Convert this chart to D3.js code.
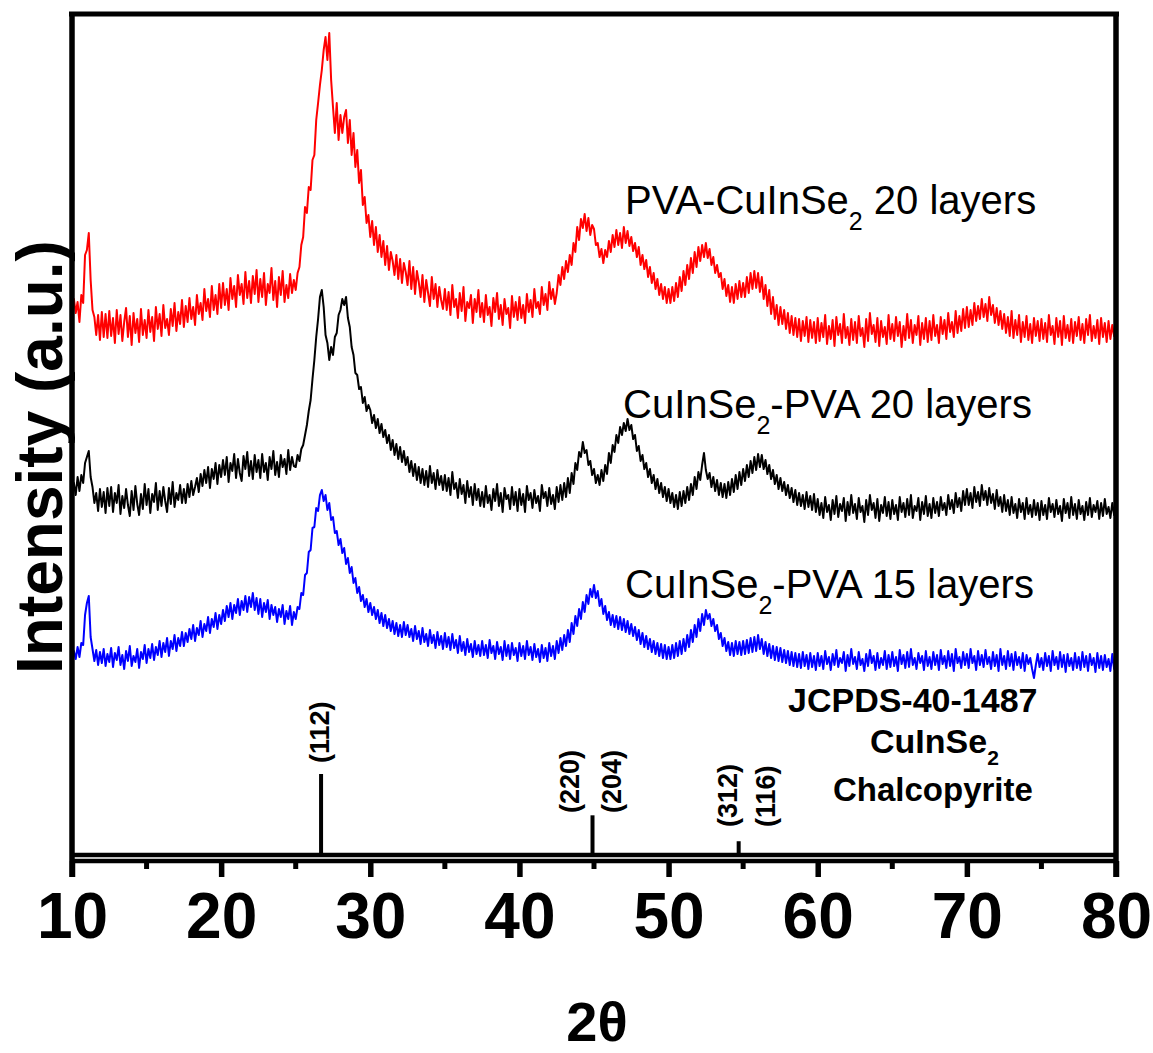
<!DOCTYPE html>
<html>
<head>
<meta charset="utf-8">
<script src="https://cdn.jsdelivr.net/npm/d3@7"></script>
<style>
  body { margin: 0; background: #fff; }
  svg { display: block; font-family: Arial, "Liberation Sans", sans-serif; }
</style>
</head>
<body>
<div id="chart"></div>
<script>
// 2-theta sampling grid of the traces (degrees)
const thetaStart = 10;
const thetaStep = 0.125;

// stacked intensities (a.u.), one row = 2.5 degrees
const redValues = [
  540, 556, 542, 553, 533, 560, 552, 600, 605, 622, 575, 545, 538, 520, 540, 515, 543, 518, 541, 517,
  544, 519, 537, 512, 545, 521, 540, 514, 533, 547, 518, 539, 510, 542, 522, 536, 513, 546, 520, 535,
  517, 545, 523, 538, 514, 548, 526, 541, 519, 550, 527, 536, 520, 546, 529, 552, 524, 543, 531, 555,
  528, 549, 533, 557, 536, 548, 530, 560, 541, 552, 535, 566, 544, 556, 538, 569, 545, 560, 541, 571,
  547, 572, 550, 566, 545, 577, 556, 569, 548, 580, 560, 571, 551, 583, 557, 574, 552, 579, 561, 585,
  553, 576, 558, 582, 550, 571, 562, 587, 555, 574, 548, 578, 560, 584, 553, 570, 557, 581, 562, 575,
  565, 582, 588, 610, 618, 648, 642, 668, 665, 695, 700, 735, 752, 770, 785, 805, 818, 795, 822, 775,
  748, 722, 752, 715, 740, 722, 738, 745, 712, 735, 700, 722, 688, 705, 672, 685, 650, 658, 632, 640,
  618, 634, 610, 628, 603, 620, 598, 614, 590, 609, 585, 603, 594, 580, 600, 576, 596, 572, 592, 583,
  570, 594, 566, 588, 561, 584, 573, 558, 580, 553, 575, 562, 549, 578, 556, 571, 548, 568, 555, 546,
  566, 545, 563, 540, 570, 548, 556, 537, 562, 544, 568, 534, 553, 547, 560, 532, 556, 543, 565, 538,
  552, 533, 560, 540, 548, 529, 557, 543, 562, 536, 550, 530, 556, 541, 547, 527, 559, 538, 553, 535,
  558, 537, 550, 532, 561, 543, 555, 538, 566, 547, 553, 541, 568, 550, 561, 545, 573, 556, 566, 551,
  562, 580, 570, 588, 576, 594, 583, 600, 590, 612, 603, 628, 615, 636, 627, 641, 624, 637, 620, 630,
  626, 610, 612, 598, 606, 592, 605, 598, 614, 603, 620, 608, 625, 610, 622, 607, 628, 612, 624, 609,
  618, 604, 612, 598, 608, 590, 600, 586, 595, 578, 588, 572, 582, 566, 576, 560, 571, 556, 568, 552,
  566, 552, 568, 554, 572, 558, 578, 564, 584, 570, 590, 576, 597, 582, 603, 588, 608, 594, 610, 598,
  612, 597, 606, 590, 598, 582, 590, 578, 582, 566, 576, 559, 570, 553, 568, 552, 571, 556, 574, 558,
  572, 558, 578, 562, 582, 566, 584, 567, 582, 563, 578, 556, 570, 549, 565, 541, 558, 536, 550, 530,
  548, 531, 545, 526, 542, 522, 539, 520, 537, 518, 536, 514, 534, 519, 538, 513, 535, 517, 533, 512,
  537, 514, 532, 518, 540, 511, 529, 516, 535, 509, 538, 520, 531, 512, 541, 517, 528, 510, 536, 515,
  533, 512, 539, 519, 527, 508, 536, 514, 542, 521, 530, 513, 537, 509, 534, 518, 528, 511, 540, 516,
  531, 514, 538, 519, 533, 508, 529, 515, 541, 517, 535, 512, 530, 520, 539, 510, 532, 516, 537, 513,
  534, 515, 540, 519, 530, 512, 538, 521, 535, 516, 542, 523, 533, 518, 544, 522, 539, 524, 546, 527,
  548, 528, 545, 530, 552, 534, 549, 536, 556, 538, 551, 534, 558, 540, 550, 532, 547, 530, 544, 526,
  541, 522, 538, 519, 544, 517, 535, 520, 540, 513, 533, 518, 539, 515, 531, 512, 537, 519, 534, 514,
  536, 516, 532, 513, 540, 520, 529, 511, 537, 518, 534, 510, 539, 517, 530, 514, 536, 512, 533, 519,
  538, 515, 531, 512, 536, 520, 540, 514, 529, 517, 535, 511, 537, 518, 532, 513, 534, 516, 530, 519, 524
];

const blackValues = [
  358, 372, 360, 378, 364, 380, 372, 392, 398, 404, 378, 368, 352, 362, 344, 366, 348, 363, 342, 367,
  349, 368, 343, 362, 352, 370, 341, 359, 347, 366, 350, 339, 364, 345, 369, 351, 340, 361, 346, 371,
  350, 366, 342, 361, 353, 372, 345, 364, 349, 368, 354, 343, 367, 351, 373, 348, 362, 355, 370, 352,
  366, 352, 371, 358, 374, 360, 368, 377, 363, 381, 369, 385, 372, 388, 367, 386, 376, 392, 371, 390,
  378, 395, 380, 398, 373, 392, 384, 401, 377, 396, 382, 374, 399, 386, 403, 379, 394, 376, 400, 383,
  395, 377, 401, 383, 392, 375, 398, 386, 404, 380, 393, 378, 400, 388, 396, 381, 405, 385, 398, 389,
  388, 400, 394, 406, 410, 420, 430, 444, 455, 476, 495, 518, 536, 558, 565, 548, 520, 512, 495, 508,
  500, 518, 522, 540, 545, 556, 550, 558, 537, 528, 508, 500, 482, 480, 466, 468, 452, 458, 444, 450,
  445, 432, 440, 427, 436, 422, 431, 418, 425, 412, 420, 405, 415, 400, 411, 396, 408, 393, 404, 390,
  398, 383, 394, 379, 391, 375, 388, 372, 386, 370, 384, 368, 389, 372, 382, 366, 385, 370, 379, 365,
  380, 364, 377, 360, 383, 366, 372, 357, 376, 361, 370, 352, 374, 358, 368, 350, 371, 355, 366, 349,
  363, 348, 369, 352, 360, 345, 366, 354, 371, 349, 362, 343, 367, 356, 360, 346, 368, 350, 363, 344,
  366, 350, 361, 343, 369, 355, 362, 347, 365, 352, 359, 344, 370, 357, 363, 349, 367, 351, 360, 346,
  368, 353, 370, 355, 372, 358, 377, 362, 382, 371, 392, 385, 403, 398, 413, 402, 405, 390, 394, 380,
  386, 372, 380, 370, 385, 374, 390, 381, 402, 392, 410, 403, 420, 412, 428, 420, 432, 424, 436, 425,
  430, 416, 420, 404, 409, 394, 400, 386, 392, 378, 386, 372, 380, 366, 376, 362, 372, 358, 368, 354,
  366, 352, 362, 348, 360, 346, 363, 349, 364, 352, 368, 355, 371, 360, 378, 366, 383, 375, 390, 402,
  385, 376, 382, 368, 378, 364, 375, 360, 372, 358, 371, 357, 373, 360, 376, 363, 380, 366, 383, 370,
  386, 374, 390, 378, 394, 382, 398, 385, 401, 388, 400, 386, 395, 381, 390, 376, 385, 371, 380, 366,
  377, 364, 373, 360, 370, 357, 367, 353, 365, 350, 362, 349, 360, 346, 363, 348, 359, 345, 361, 343,
  356, 340, 352, 337, 358, 343, 350, 335, 355, 341, 359, 338, 351, 344, 357, 334, 353, 340, 360, 342,
  351, 336, 357, 343, 349, 333, 355, 340, 360, 345, 352, 337, 356, 334, 350, 342, 358, 339, 353, 336,
  355, 341, 350, 335, 358, 343, 352, 338, 356, 340, 360, 337, 349, 344, 357, 335, 353, 341, 359, 339,
  351, 337, 357, 342, 353, 339, 358, 345, 352, 340, 360, 346, 355, 342, 362, 348, 357, 344, 364, 350,
  366, 350, 362, 347, 368, 353, 363, 349, 370, 355, 364, 350, 367, 352, 361, 346, 365, 349, 358, 343,
  360, 344, 355, 340, 358, 342, 351, 337, 356, 343, 352, 336, 357, 341, 350, 338, 355, 340, 352, 335,
  354, 340, 350, 336, 357, 343, 351, 338, 355, 341, 349, 334, 356, 342, 352, 337, 358, 340, 351, 336,
  355, 341, 349, 335, 353, 340, 357, 338, 350, 343, 354, 336, 352, 339, 356, 341, 348, 337, 352, 340, 345
];

const blueValues = [
  192, 204, 196, 208, 198, 212, 210, 240, 252, 259, 218, 206, 194, 205, 190, 203, 192, 206, 189, 201,
  193, 207, 188, 202, 195, 208, 190, 200, 186, 204, 194, 209, 189, 199, 193, 206, 187, 203, 196, 210,
  192, 206, 197, 211, 195, 208, 200, 214, 198, 212, 203, 217, 199, 214, 206, 220, 204, 217, 209, 223,
  209, 222, 213, 226, 216, 230, 214, 227, 220, 234, 218, 231, 224, 238, 222, 236, 228, 242, 226, 240,
  231, 245, 234, 249, 238, 252, 236, 250, 242, 256, 240, 254, 245, 259, 243, 258, 248, 262, 245, 257,
  241, 256, 238, 252, 243, 255, 236, 250, 240, 248, 233, 246, 238, 250, 231, 244, 236, 249, 230, 243,
  236, 248, 246, 262, 260, 280, 282, 303, 305, 327, 328, 347, 344, 360, 365, 354, 360, 345, 352, 335,
  338, 322, 324, 310, 316, 302, 307, 291, 297, 282, 288, 272, 277, 262, 268, 254, 260, 248, 256, 243,
  252, 240, 248, 236, 245, 232, 242, 229, 240, 227, 236, 224, 234, 221, 232, 219, 230, 218, 233, 220,
  230, 218, 226, 214, 229, 216, 224, 211, 227, 213, 221, 209, 225, 212, 220, 207, 223, 210, 219, 206,
  222, 208, 218, 205, 221, 207, 215, 202, 219, 204, 213, 200, 216, 203, 211, 198, 214, 201, 210, 199,
  214, 200, 210, 197, 215, 202, 209, 196, 213, 201, 208, 195, 214, 199, 210, 196, 212, 200, 207, 194,
  212, 199, 209, 196, 214, 200, 208, 195, 211, 198, 206, 193, 210, 197, 207, 194, 212, 199, 209, 196,
  214, 202, 217, 205, 220, 209, 225, 213, 232, 221, 239, 229, 246, 236, 253, 243, 260, 251, 266, 258,
  270, 257, 264, 249, 256, 241, 249, 235, 243, 230, 240, 228, 239, 226, 238, 225, 236, 223, 234, 221,
  231, 219, 228, 215, 225, 211, 222, 208, 219, 206, 216, 203, 214, 201, 212, 199, 211, 197, 210, 196,
  208, 196, 210, 197, 212, 199, 214, 201, 216, 204, 220, 208, 225, 213, 230, 218, 236, 224, 241, 230,
  245, 236, 241, 229, 236, 224, 230, 216, 222, 209, 217, 204, 213, 200, 212, 199, 214, 201, 213, 200,
  214, 201, 215, 202, 217, 203, 218, 204, 220, 206, 216, 201, 213, 199, 211, 197, 209, 195, 208, 194,
  207, 193, 205, 192, 204, 190, 203, 189, 202, 188, 201, 187, 203, 189, 200, 186, 202, 188, 199, 185,
  202, 189, 199, 186, 204, 191, 198, 185, 201, 190, 205, 188, 197, 192, 203, 184, 200, 189, 206, 191,
  198, 186, 203, 190, 196, 184, 201, 189, 205, 192, 199, 185, 202, 187, 197, 190, 204, 186, 200, 188,
  203, 189, 198, 184, 205, 191, 200, 187, 203, 188, 206, 190, 197, 186, 202, 192, 199, 185, 204, 189,
  198, 186, 203, 190, 200, 185, 205, 191, 199, 187, 204, 189, 201, 184, 206, 192, 198, 187, 203, 190,
  201, 187, 206, 192, 199, 185, 204, 190, 200, 188, 205, 191, 198, 186, 203, 189, 200, 184, 206, 190,
  199, 186, 204, 189, 201, 185, 203, 190, 198, 187, 202, 184, 200, 191, 197, 186, 177, 190, 201, 188,
  197, 185, 202, 189, 199, 184, 204, 190, 198, 186, 203, 188, 200, 183, 201, 189, 197, 185, 202, 187,
  198, 185, 203, 188, 199, 184, 201, 190, 197, 183, 202, 187, 199, 185, 200, 188, 196, 184, 201, 186, 192
];

const seriesColors = ["#ff0000", "#000000", "#0000ff"];

// JCPDS-40-1487 reference sticks
const stickAngles = [26.7, 44.9, 54.7];
const stickHeights = [100, 49, 17];
const stickLabels = [["(112)"], ["(220)", "(204)"], ["(312)", "(116)"]];

const xTicks = [10, 20, 30, 40, 50, 60, 70, 80];
const xMinorTicks = [15, 25, 35, 45, 55, 65, 75];

const width = 1153;
const height = 1053;
const plotLeft = 72, plotRight = 1116, plotTop = 14, plotBottom = 855, axisY = 861;

const svg = d3.select("#chart").append("svg").attr("width", width).attr("height", height);

const x = d3.scaleLinear().domain([10, 80]).range([plotLeft, plotRight]);
const y = d3.scaleLinear().domain([0, 841]).range([plotBottom, plotTop]);
const ys = d3.scaleLinear().domain([0, 100]).range([plotBottom, 774]);

const line = d3
  .line()
  .x((d, i) => x(thetaStart + i * thetaStep))
  .y((d) => y(d));

// traces (blue first, red on top)
[[blueValues, seriesColors[2]], [blackValues, seriesColors[1]], [redValues, seriesColors[0]]].forEach(([vals, color]) => {
  svg
    .append("path")
    .datum(vals)
    .attr("fill", "none")
    .attr("stroke", color)
    .attr("stroke-width", 2)
    .attr("stroke-linejoin", "round")
    .attr("d", line);
});

// reference sticks
svg
  .selectAll(".stick")
  .data(stickAngles)
  .join("line")
  .attr("class", "stick")
  .attr("x1", (d) => x(d))
  .attr("x2", (d) => x(d))
  .attr("y1", plotBottom)
  .attr("y2", (d, i) => ys(stickHeights[i]))
  .attr("stroke", "#000")
  .attr("stroke-width", 4);

// stick labels, rotated
const labelPos = [
  [[329, 763]],
  [[579, 813], [621, 813]],
  [[737, 827], [775, 827]],
];
stickLabels.forEach((labels, i) => {
  labels.forEach((t, j) => {
    const [bx, by] = labelPos[i][j];
    svg
      .append("text")
      .attr("transform", `translate(${bx},${by}) rotate(-90)`)
      .attr("font-size", 27)
      .attr("font-weight", "bold")
      .text(t);
  });
});

// frame
svg.append("line").attr("x1", plotLeft - 3).attr("x2", plotRight + 3).attr("y1", plotTop).attr("y2", plotTop)
  .attr("stroke", "#000").attr("stroke-width", 5);
svg.append("line").attr("x1", plotLeft).attr("x2", plotLeft).attr("y1", plotTop - 2).attr("y2", 877)
  .attr("stroke", "#000").attr("stroke-width", 5.5);
svg.append("line").attr("x1", plotRight).attr("x2", plotRight).attr("y1", plotTop - 2).attr("y2", 877)
  .attr("stroke", "#000").attr("stroke-width", 5.5);
svg.append("line").attr("x1", plotLeft).attr("x2", plotRight).attr("y1", plotBottom).attr("y2", plotBottom)
  .attr("stroke", "#000").attr("stroke-width", 4.5);

// x axis
const xAxis = svg
  .append("g")
  .attr("transform", `translate(0,${axisY})`)
  .call(d3.axisBottom(x).tickValues(xTicks).tickSize(16).tickFormat(d3.format("d")));
xAxis.select(".domain").attr("stroke-width", 4.5).attr("d", `M${plotLeft},0H${plotRight}`);
xAxis.selectAll(".tick line").attr("stroke-width", 5.5);
xAxis
  .selectAll(".tick text")
  .attr("y", 77)
  .attr("dy", 0)
  .attr("font-size", 64)
  .attr("font-weight", "bold")
  .attr("font-family", "Arial, 'Liberation Sans', sans-serif")
  .attr("fill", "#000");

xAxis
  .selectAll(".minor")
  .data(xMinorTicks)
  .join("line")
  .attr("class", "minor")
  .attr("x1", (d) => x(d))
  .attr("x2", (d) => x(d))
  .attr("y1", 0)
  .attr("y2", 8)
  .attr("stroke", "#000")
  .attr("stroke-width", 5);

// axis titles
svg
  .append("text")
  .attr("x", 597)
  .attr("y", 1041)
  .attr("text-anchor", "middle")
  .attr("font-size", 56)
  .attr("font-weight", "bold")
  .text("2θ");

svg
  .append("text")
  .attr("transform", "translate(62,457) rotate(-90)")
  .attr("text-anchor", "middle")
  .attr("font-size", 64)
  .attr("font-weight", "bold")
  .text("Intensity (a.u.)");

// labels with a subscript 2
function labelWithSub(g, xPos, yPos, before, after, size, subSize, subDy, weight) {
  const t = g
    .append("text")
    .attr("x", xPos)
    .attr("y", yPos)
    .attr("font-size", size)
    .attr("font-weight", weight);
  t.append("tspan").text(before);
  t.append("tspan").attr("font-size", subSize).attr("dy", subDy).text("2");
  if (after) t.append("tspan").attr("dy", -subDy).text(after);
}

labelWithSub(svg, 625, 214, "PVA-CuInSe", " 20 layers", 40, 25, 16, "normal");
labelWithSub(svg, 623, 418, "CuInSe", "-PVA 20 layers", 40, 25, 16, "normal");
labelWithSub(svg, 625, 598, "CuInSe", "-PVA 15 layers", 40, 25, 16, "normal");

// JCPDS card text
svg.append("text").attr("x", 788).attr("y", 712).attr("font-size", 34).attr("font-weight", "bold")
  .text("JCPDS-40-1487");
labelWithSub(svg, 870, 753, "CuInSe", null, 34, 21, 12, "bold");
svg.append("text").attr("x", 833).attr("y", 801).attr("font-size", 33).attr("font-weight", "bold")
  .text("Chalcopyrite");
</script>
</body>
</html>
